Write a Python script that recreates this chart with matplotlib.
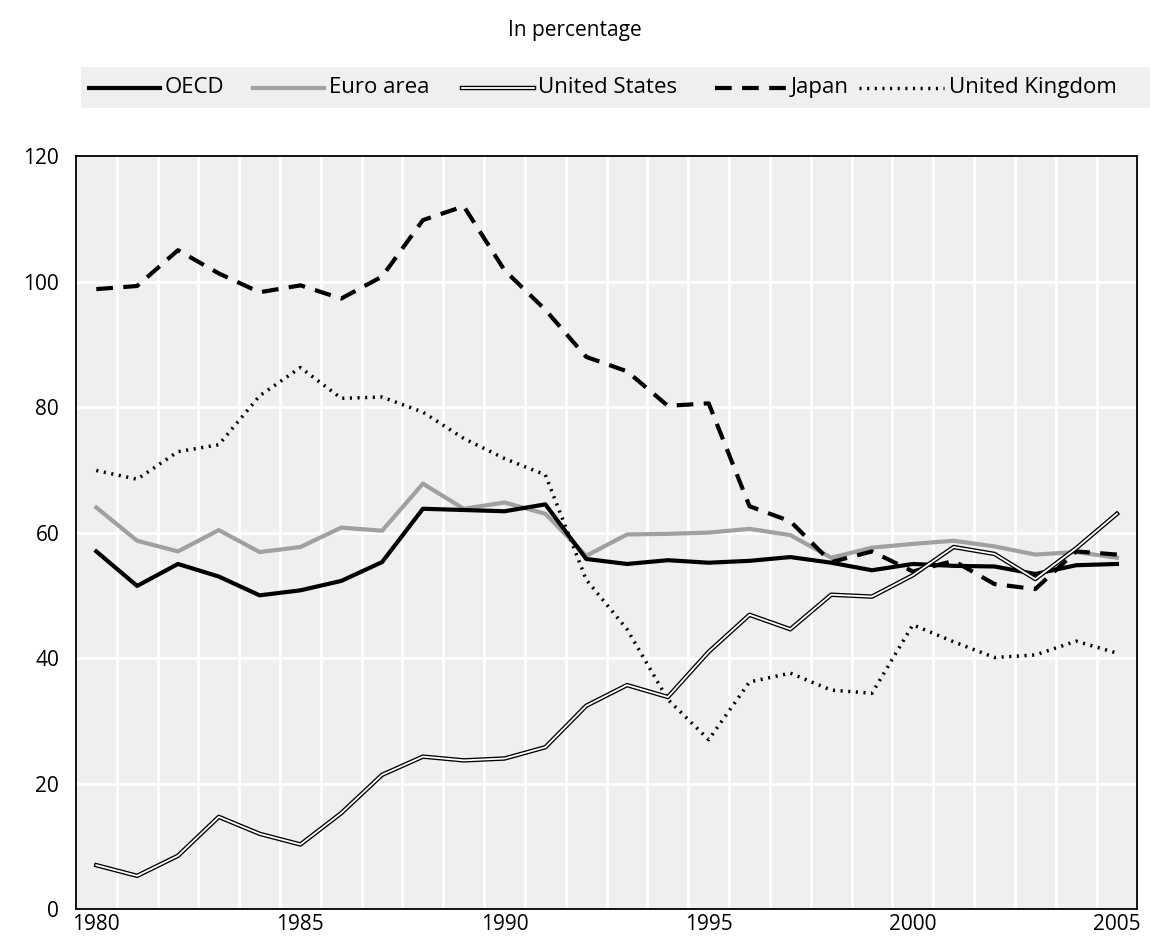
import matplotlib
matplotlib.use("Agg")
import matplotlib.pyplot as plt
from matplotlib.patches import Rectangle

plt.rcParams['font.family'] = ['Open Sans', 'DejaVu Sans']

years = list(range(1980, 2006))
oecd = [57, 51.5, 55, 53, 50, 50.8, 52.3, 55.3, 63.8, 63.6, 63.4, 64.5, 55.8, 55, 55.6, 55.2,
        55.5, 56.1, 55.2, 54, 55, 54.7, 54.6, 53.4, 54.8, 55]
euro = [64, 58.7, 57, 60.4, 56.9, 57.7, 60.8, 60.3, 67.8, 63.8, 64.8, 63, 56.3, 59.7, 59.8, 60,
        60.6, 59.6, 56, 57.6, 58.2, 58.7, 57.8, 56.5, 56.9, 56]
us = [7, 5.3, 8.5, 14.7, 12, 10.3, 15.3, 21.4, 24.3, 23.7, 24, 25.8, 32.4, 35.7, 33.8, 41,
      46.9, 44.6, 50.1, 49.8, 53.2, 57.7, 56.6, 52.6, 57.5, 63]
japan = [98.8, 99.3, 105, 101.3, 98.3, 99.4, 97.3, 100.8, 109.8, 112, 101.8, 95.5, 88, 85.7, 80.2, 80.6,
         64.2, 61.8, 55.3, 57, 53.8, 55.5, 51.8, 51, 57, 56.5]
uk = [69.9, 68.5, 72.9, 74, 81.8, 86.3, 81.4, 81.6, 79.2, 75, 71.8, 69.2, 52.5, 44.6, 33.4, 27,
      36.2, 37.6, 34.9, 34.4, 45.3, 42.6, 40.1, 40.5, 42.7, 40.8]

fig = plt.figure(figsize=(11.5, 9.46), dpi=100)
ax = fig.add_axes([0.066, 0.039, 0.923, 0.796])
ax.set_facecolor('#efefef')

for y in range(20, 120, 20):
    ax.axhline(y, color='white', lw=2, zorder=1)
for yr in years[:-1]:
    ax.axvline(yr + 0.5, color='white', lw=2, zorder=1)

ax.plot(years, euro, color='#a0a0a0', lw=3, zorder=3)
ax.plot(years, oecd, color='black', lw=3, zorder=4)
ax.plot(years, us, color='black', lw=3.2, zorder=5)
ax.plot(years, us, color='white', lw=1.3, zorder=6)
ax.plot(years, japan, color='black', lw=3, ls=(0, (4, 2.5)), zorder=5)
ax.plot(years, uk, color='black', lw=2.5, ls=(0, (0.6, 1.6)), zorder=5)

ax.set_xlim(1979.5, 2005.5)
ax.set_ylim(0, 120)
ax.set_yticks(range(0, 121, 20))
ax.set_xticks(range(1980, 2006, 5))
ax.tick_params(labelsize=15, length=0)
ax.tick_params(axis='y', pad=12)
for s in ax.spines.values():
    s.set_linewidth(1.3)

fig.text(0.5, 0.968, "In percentage", ha='center', va='center', fontsize=15)

# legend strip
fig.patches.append(Rectangle((0.07, 0.886), 0.93, 0.043, transform=fig.transFigure,
                             facecolor='#efefef', edgecolor='none'))
items = [("OECD", dict(color='black', lw=3), 0.077, 0.062),
         ("Euro area", dict(color='#a0a0a0', lw=3), 0.22, 0.062),
         ("United States", None, 0.402, 0.062),
         ("Japan", dict(color='black', lw=3, ls=(0, (4, 2.5))), 0.622, 0.062),
         ("United Kingdom", dict(color='black', lw=2.5, ls=(0, (0.6, 1.6))), 0.747, 0.074)]
ly = 0.907
for label, style, x0, w in items:
    if style is None:
        fig.add_artist(plt.Line2D([x0, x0 + w], [ly, ly], color='black', lw=3.2))
        fig.add_artist(plt.Line2D([x0, x0 + w], [ly, ly], color='white', lw=1.3))
    else:
        fig.add_artist(plt.Line2D([x0, x0 + w], [ly, ly], **style))
    fig.text(x0 + w + 0.004, ly, label, va='center', fontsize=16)

fig.savefig("out.png", dpi=100)
